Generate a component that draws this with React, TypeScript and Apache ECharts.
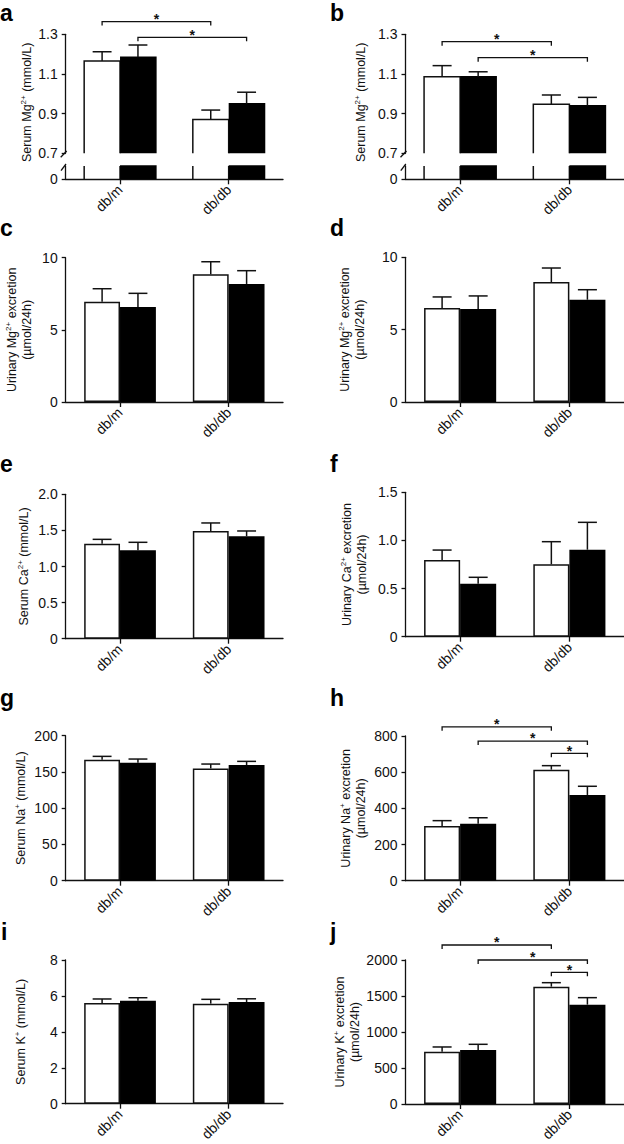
import React, { useEffect, useRef } from 'react';
import * as echarts from 'echarts';

// ---------------- data ----------------
const categories = ['db/m', 'db/db'];

// a: Serum Mg2+ (broken axis)
const aWhite = [1.165, 0.871];
const aWhiteErr = [0.047, 0.047];
const aBlack = [1.184, 0.95];
const aBlackErr = [0.062, 0.058];
const aSig = [[0, 0, 1, 0, 1.364], [0, 1, 1, 1, 1.285]];

// b: Serum Mg2+ (broken axis)
const bWhite = [1.086, 0.947];
const bWhiteErr = [0.056, 0.047];
const bBlack = [1.086, 0.94];
const bBlackErr = [0.025, 0.042];
const bSig = [[0, 0, 1, 0, 1.263], [0, 1, 1, 1, 1.182]];

const mgTicks = [0.7, 0.9, 1.1, 1.3];

// c: Urinary Mg2+ excretion
const cWhite = [6.95, 8.85];
const cWhiteErr = [0.9, 0.87];
const cBlack = [6.58, 8.18];
const cBlackErr = [0.95, 0.92];

// d: Urinary Mg2+ excretion
const dWhite = [6.5, 8.29];
const dWhiteErr = [0.76, 0.97];
const dBlack = [6.43, 7.07];
const dBlackErr = [0.9, 0.69];

// e: Serum Ca2+
const eWhite = [1.316, 1.492];
const eWhiteErr = [0.06, 0.111];
const eBlack = [1.224, 1.418];
const eBlackErr = [0.111, 0.074];

// f: Urinary Ca2+ excretion
const fWhite = [0.797, 0.752];
const fWhiteErr = [0.103, 0.235];
const fBlack = [0.551, 0.904];
const fBlackErr = [0.066, 0.284];

// g: Serum Na+
const gWhite = [166.9, 154.9];
const gWhiteErr = [4.6, 6.0];
const gBlack = [162.8, 159.5];
const gBlackErr = [5.0, 5.1];

// h: Urinary Na+ excretion
const hWhite = [302, 614];
const hWhiteErr = [30, 22];
const hBlack = [315, 474];
const hBlackErr = [33, 48];
const hSig = [[0, 0, 1, 0, 851], [0, 1, 1, 1, 772], [1, 0, 1, 1, 704]];

// i: Serum K+
const iWhite = [5.6, 5.57];
const iWhiteErr = [0.23, 0.24];
const iBlack = [5.73, 5.66];
const iBlackErr = [0.17, 0.18];

// j: Urinary K+ excretion
const jWhite = [727, 1630];
const jWhiteErr = [65, 55];
const jBlack = [750, 1380];
const jBlackErr = [79, 97];
const jSig = [[0, 0, 1, 0, 2208], [0, 1, 1, 1, 2000], [1, 0, 1, 1, 1829]];

// ---------------- styling / layout ----------------
const FONT = '"Liberation Sans", Arial, Helvetica, sans-serif';
const INK = '#111111';
const BAR_BLACK = '#000000';
const BAR_FRAC = 0.33;
const CAP_FRAC = 0.087;
const LETTER_SIZE = 23;

const LEFT_X = 65.7;
const LEFT_W = 217.3;
const RIGHT_X = 405.5;
const RIGHT_W = 218.5;

const richName = {
  sup: { fontSize: 8, verticalAlign: 'top', lineHeight: 15, fontFamily: FONT, color: INK },
};

function fmt1(v: number) {
  return v === 0 ? '0' : v.toFixed(1);
}
function fmt0(v: number) {
  return String(Math.round(v));
}

function buildOption() {
  const grid: any[] = [];
  const xAxis: any[] = [];
  const yAxis: any[] = [];
  const series: any[] = [];
  const graphic: any[] = [];

  const lineStyle = { color: INK, width: 1.3 };

  function addAxes(
    left: number,
    width: number,
    top: number,
    height: number,
    showX: boolean,
    y: any
  ) {
    grid.push({ left, top, width, height });
    const idx = grid.length - 1;
    xAxis.push({
      gridIndex: idx,
      type: 'category',
      data: categories,
      show: showX,
      axisLine: { show: showX, lineStyle },
      axisTick: { show: showX, alignWithLabel: true, length: 5, lineStyle },
      axisLabel: {
        show: showX,
        rotate: 45,
        margin: 8,
        fontSize: 14,
        color: INK,
        fontFamily: FONT,
      },
      splitLine: { show: false },
    });
    yAxis.push(
      Object.assign(
        {
          gridIndex: idx,
          type: 'value',
          axisLine: { show: true, lineStyle },
          axisTick: { show: true, length: 4, lineStyle },
          splitLine: { show: false },
        },
        y,
        {
          axisLabel: Object.assign(
            { margin: 8, fontSize: 14, color: INK, fontFamily: FONT },
            y.axisLabel || {}
          ),
        }
      )
    );
    return idx;
  }

  function nameStyle(shiftDown: number) {
    return {
      fontSize: 12.5,
      lineHeight: 15,
      color: INK,
      fontFamily: FONT,
      rich: richName,
      padding: shiftDown ? [0, shiftDown * 2, 0, 0] : 0,
    };
  }

  function errSeries(idx: number, means: number[], errs: number[], side: number) {
    return {
      type: 'custom',
      xAxisIndex: idx,
      yAxisIndex: idx,
      silent: true,
      z: 5,
      data: means.map((m, i) => [i, m, errs[i]]),
      renderItem: (params: any, api: any) => {
        const ci = api.value(0);
        const m = api.value(1);
        const e = api.value(2);
        const p0 = api.coord([ci, m]);
        const p1 = api.coord([ci, m + e]);
        const band = api.size([1, 0])[0];
        const x = p0[0] + (side ? 1 : -1) * band * BAR_FRAC * 0.5;
        const cap = band * CAP_FRAC;
        const st = { stroke: INK, lineWidth: 1.5, fill: 'none' };
        return {
          type: 'group',
          children: [
            { type: 'line', shape: { x1: x, y1: p0[1], x2: x, y2: p1[1] }, style: st },
            { type: 'line', shape: { x1: x - cap, y1: p1[1], x2: x + cap, y2: p1[1] }, style: st },
          ],
        };
      },
    };
  }

  function sigSeries(idx: number, sig: number[][]) {
    return {
      type: 'custom',
      xAxisIndex: idx,
      yAxisIndex: idx,
      silent: true,
      clip: false,
      z: 6,
      data: sig,
      renderItem: (params: any, api: any) => {
        const c1 = api.value(0);
        const s1 = api.value(1);
        const c2 = api.value(2);
        const s2 = api.value(3);
        const lvl = api.value(4);
        const band = api.size([1, 0])[0];
        const off = band * BAR_FRAC * 0.5;
        const p1 = api.coord([c1, lvl]);
        const p2 = api.coord([c2, lvl]);
        const x1 = p1[0] + (s1 ? off : -off);
        const x2 = p2[0] + (s2 ? off : -off);
        const y = p1[1];
        return {
          type: 'group',
          children: [
            {
              type: 'polyline',
              shape: { points: [[x1, y + 4], [x1, y], [x2, y], [x2, y + 4]] },
              style: { stroke: INK, lineWidth: 1.3, fill: 'none' },
            },
            {
              type: 'text',
              x: (x1 + x2) / 2,
              y: y - 2.7,
              style: {
                text: '*',
                fill: INK,
                font: `bold 14px ${FONT}`,
                align: 'center',
                verticalAlign: 'middle',
              },
            },
          ],
        };
      },
    };
  }

  function barSeries(idx: number, values: number[], black: boolean) {
    return {
      type: 'bar',
      xAxisIndex: idx,
      yAxisIndex: idx,
      silent: true,
      data: values,
      barWidth: '33%',
      barGap: '0%',
      itemStyle: {
        color: black ? BAR_BLACK : '#ffffff',
        borderColor: black ? BAR_BLACK : INK,
        borderWidth: 1.5,
      },
    };
  }

  function brokenBarSeries(idx: number, values: number[], side: number) {
    return {
      type: 'custom',
      xAxisIndex: idx,
      yAxisIndex: idx,
      silent: true,
      clip: false,
      z: side ? 3 : 2,
      data: values.map((v, i) => [i, v]),
      renderItem: (params: any, api: any) => {
        const cs = params.coordSys;
        const ci = api.value(0);
        const v = api.value(1);
        const p = api.coord([ci, v]);
        const band = api.size([1, 0])[0];
        const w = band * BAR_FRAC;
        const x0 = side ? p[0] : p[0] - w;
        const bottom = cs.y + cs.height;
        const clipped = p[1] < cs.y;
        const top = clipped ? cs.y : p[1];
        if (side) {
          return {
            type: 'rect',
            shape: { x: x0, y: top - 0.75, width: w + 0.75, height: bottom - top + 0.75 },
            style: { fill: BAR_BLACK },
          };
        }
        const st = { stroke: INK, lineWidth: 1.5, fill: 'none' };
        if (clipped) {
          return {
            type: 'group',
            children: [
              { type: 'line', shape: { x1: x0, y1: top, x2: x0, y2: bottom }, style: st },
              { type: 'line', shape: { x1: x0 + w, y1: top, x2: x0 + w, y2: bottom }, style: st },
            ],
          };
        }
        return {
          type: 'polyline',
          shape: { points: [[x0, bottom], [x0, top], [x0 + w, top], [x0 + w, bottom]] },
          style: st,
        };
      },
    };
  }

  function letter(t: string, x: number, baseline: number) {
    graphic.push({
      type: 'text',
      x,
      y: baseline - 0.347 * LETTER_SIZE,
      style: {
        text: t,
        fill: '#000',
        font: `bold ${LETTER_SIZE}px ${FONT}`,
        align: 'left',
        verticalAlign: 'middle',
      },
    });
  }

  function breakMarks(axisX: number, upperBottom: number, lowerTop: number) {
    const st = { stroke: INK, lineWidth: 1.3 };
    graphic.push({
      type: 'line',
      shape: { x1: axisX - 5, y1: upperBottom + 4, x2: axisX + 1, y2: upperBottom - 2.3 },
      style: st,
      z: 100,
    });
    graphic.push({
      type: 'line',
      shape: { x1: axisX - 4.7, y1: lowerTop + 4.7, x2: axisX + 0.3, y2: lowerTop - 2 },
      style: st,
      z: 100,
    });
  }

  // ---- broken-axis panels a, b ----
  function brokenPanel(
    left: number,
    width: number,
    name: string,
    nameGap: number,
    white: number[],
    whiteErr: number[],
    black: number[],
    blackErr: number[],
    sig: number[][]
  ) {
    const upTop = 34.3;
    const upH = 119;
    const loTop = 166;
    const loH = 13.3;
    const u = addAxes(left, width, upTop, upH, false, {
      min: 0.7,
      max: 1.3,
      interval: 0.2,
      axisLabel: { formatter: fmt1, customValues: mgTicks },
      axisTick: { show: true, length: 4, lineStyle: { color: INK, width: 1.3 }, customValues: mgTicks },
      name,
      nameLocation: 'middle',
      nameGap,
      nameTextStyle: nameStyle(8.5),
    });
    const l = addAxes(left, width, loTop, loH, true, {
      min: 0,
      max: 0.1,
      axisLabel: { formatter: fmt1, customValues: [0] },
      axisTick: { show: true, length: 4, lineStyle: { color: INK, width: 1.3 }, customValues: [0] },
    });
    series.push(brokenBarSeries(u, white, 0));
    series.push(brokenBarSeries(u, black, 1));
    series.push(brokenBarSeries(l, white, 0));
    series.push(brokenBarSeries(l, black, 1));
    series.push(errSeries(u, white, whiteErr, 0));
    series.push(errSeries(u, black, blackErr, 1));
    series.push(sigSeries(u, sig));
    breakMarks(left, upTop + upH, loTop);
  }

  function panel(
    left: number,
    width: number,
    top: number,
    height: number,
    max: number,
    interval: number,
    fmt: (v: number) => string,
    name: string,
    nameGap: number,
    white: number[],
    whiteErr: number[],
    black: number[],
    blackErr: number[],
    sig?: number[][]
  ) {
    const idx = addAxes(left, width, top, height, true, {
      min: 0,
      max,
      interval,
      axisLabel: { formatter: fmt },
      name,
      nameLocation: 'middle',
      nameGap,
      nameTextStyle: nameStyle(0),
    });
    series.push(barSeries(idx, white, false));
    series.push(barSeries(idx, black, true));
    series.push(errSeries(idx, white, whiteErr, 0));
    series.push(errSeries(idx, black, blackErr, 1));
    if (sig) series.push(sigSeries(idx, sig));
  }

  const serumMg = 'Serum Mg{sup|2+} (mmol/L)';
  const urMg = 'Urinary Mg{sup|2+} excretion\n(µmol/24h)';

  brokenPanel(LEFT_X, LEFT_W, serumMg, 29, aWhite, aWhiteErr, aBlack, aBlackErr, aSig);
  brokenPanel(RIGHT_X, RIGHT_W, serumMg, 37, bWhite, bWhiteErr, bBlack, bBlackErr, bSig);

  panel(LEFT_X, LEFT_W, 257.7, 144.3, 10, 5, fmt0, urMg, 31, cWhite, cWhiteErr, cBlack, cBlackErr);
  panel(RIGHT_X, RIGHT_W, 257.3, 144.7, 10, 5, fmt0, urMg, 38, dWhite, dWhiteErr, dBlack, dBlackErr);

  panel(LEFT_X, LEFT_W, 494.3, 144.4, 2, 0.5, fmt1, 'Serum Ca{sup|2+} (mmol/L)', 34, eWhite, eWhiteErr, eBlack, eBlackErr);
  panel(RIGHT_X, RIGHT_W, 492.3, 144.4, 1.5, 0.5, fmt1, 'Urinary Ca{sup|2+} excretion\n(µmol/24h)', 36.5, fWhite, fWhiteErr, fBlack, fBlackErr);

  panel(LEFT_X, LEFT_W, 735.7, 145, 200, 50, fmt0, 'Serum Na{sup|+} (mmol/L)', 37, gWhite, gWhiteErr, gBlack, gBlackErr);
  panel(RIGHT_X, RIGHT_W, 736, 144.7, 800, 200, fmt0, 'Urinary Na{sup|+} excretion\n(µmol/24h)', 37, hWhite, hWhiteErr, hBlack, hBlackErr, hSig);

  panel(LEFT_X, LEFT_W, 960, 143.7, 8, 2, fmt0, 'Serum K{sup|+} (mmol/L)', 37, iWhite, iWhiteErr, iBlack, iBlackErr);
  panel(RIGHT_X, RIGHT_W, 960, 144, 2000, 500, fmt0, 'Urinary K{sup|+} excretion\n(µmol/24h)', 37, jWhite, jWhiteErr, jBlack, jBlackErr, jSig);

  letter('a', 0, 20.5);
  letter('b', 330, 20.5);
  letter('c', 0, 236);
  letter('d', 330, 236);
  letter('e', 0, 472);
  letter('f', 330, 472);
  letter('g', 0, 706);
  letter('h', 330, 706);
  letter('i', 1, 940);
  letter('j', 330, 940);

  return {
    animation: false,
    backgroundColor: '#ffffff',
    textStyle: { fontFamily: FONT },
    grid,
    xAxis,
    yAxis,
    series,
    graphic,
  };
}

export default function App() {
  const ref = useRef<HTMLDivElement>(null);
  useEffect(() => {
    document.body.style.margin = '0';
    if (!ref.current) return;
    const chart = echarts.init(ref.current, null, { renderer: 'svg' });
    chart.setOption(buildOption() as any);
    return () => {
      chart.dispose();
    };
  }, []);
  return (
    <div
      ref={ref}
      style={{ position: 'absolute', left: 0, top: 0, width: 624, height: 1144, background: '#fff' }}
    />
  );
}
